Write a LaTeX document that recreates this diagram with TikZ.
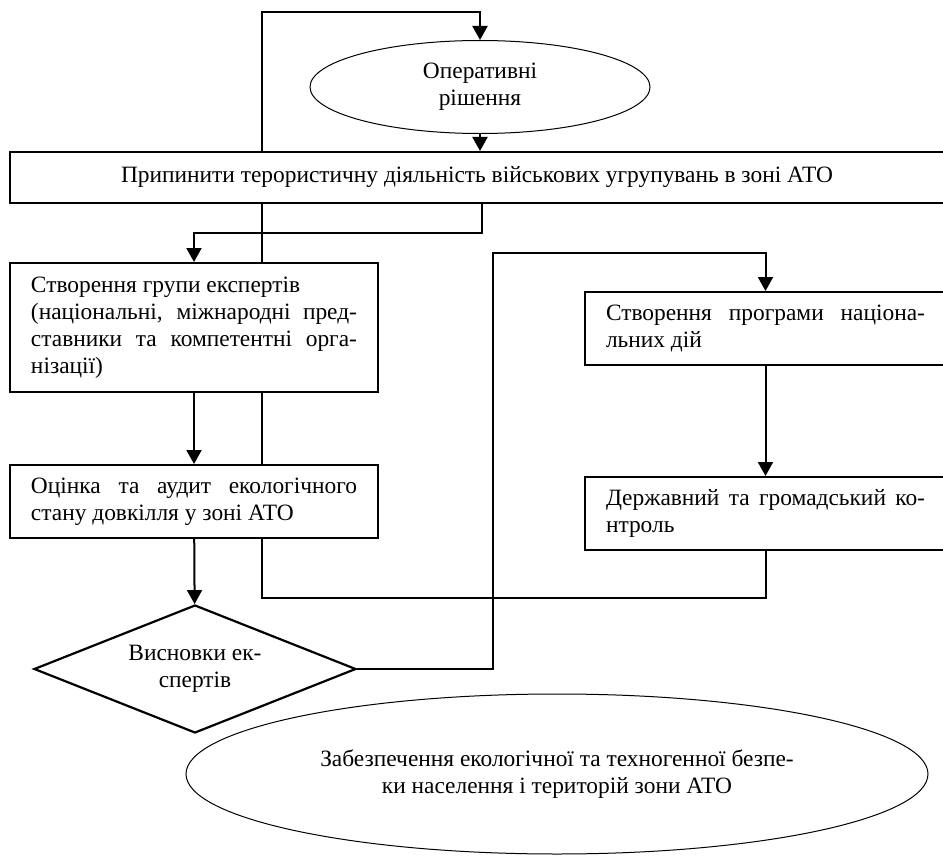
\documentclass[tikz,border=0pt]{standalone}
\usepackage{fontspec}
\setmainfont{Liberation Serif}
\usetikzlibrary{arrows.meta,shapes.geometric,backgrounds}

\begin{document}
\begin{tikzpicture}[x=0.5pt,y=-0.5pt,
    font=\fontsize{11.7}{13.5}\selectfont,
    block/.style={draw,line width=1pt,fill=white,rectangle,inner ysep=0pt},
    textblock/.style={block,inner xsep=10.5pt,align=justify},
    oval/.style={draw,line width=0.5pt,fill=white,ellipse,inner sep=0pt,align=center},
    decision/.style={draw,line width=1.1pt,fill=white,diamond,inner sep=0pt,align=center},
    flow/.style={line width=1pt,-{Triangle[length=7pt,width=7.5pt]}}]
    \useasboundingbox (0,0) rectangle (943,856);
    \node[oval] (ops)            at (480,87)    [minimum width=170pt,minimum height=46.5pt] {Оперативні\\рішення};
    \node[block] (stop)          at (477,177.5) [minimum width=467pt,minimum height=25.5pt]
        {Припинити терористичну діяльність військових угрупувань в зоні АТО};
    \node[textblock] (experts)   at (194,327.5) [text width=163pt,minimum height=64.5pt]
        {Створення групи експертів\\(національні, міжнародні пред-\linebreak ставники та компетентні орга-\linebreak нізації)};
    \node[textblock] (audit)     at (194,501.5) [text width=163pt,minimum height=36.5pt]
        {Оцінка та аудит екологічного\linebreak стану довкілля у зоні АТО};
    \node[textblock] (program)   at (765.5,328.5) [text width=159.5pt,minimum height=36.5pt]
        {Створення програми націона-\linebreak льних дій};
    \node[textblock] (control)   at (765.5,513.5) [text width=159.5pt,minimum height=36.5pt]
        {Державний та громадський ко-\linebreak нтроль};
    \node[decision] (conclusions) at (195,669)  [minimum width=161pt,minimum height=64pt,aspect=2.5]
        {Висновки ек-\\спертів};
    \node[oval] (safety)         at (557,774)   [minimum width=371pt,minimum height=80pt]
        {Забезпечення екологічної та техногенної безпе-\\ки населення і територій зони АТО};
    \coordinate (fb1) at (262,598);
    \coordinate (fb2) at (262,12);
    \coordinate (s1)  at (482,233);
    \coordinate (c1)  at (493,253);
    % feedback loop, behind the blocks
    \begin{pgfonlayer}{background}
    \draw[flow] (control.south) |- (fb1) -- (fb2) -| (ops.north);
    \end{pgfonlayer}
    % main chain
    \draw[flow] (ops.south) -- (ops.south |- stop.north);
    \draw[flow] (s1 |- stop.south) -- (s1) -| (experts.north);
    \draw[flow] (experts) -- (audit);
    \draw[flow] (audit) -- (conclusions);
    % right branch
    \draw[flow] (conclusions.east) -| (c1) -| (program.north);
    \draw[flow] (program) -- (control);
\end{tikzpicture}
\end{document}
